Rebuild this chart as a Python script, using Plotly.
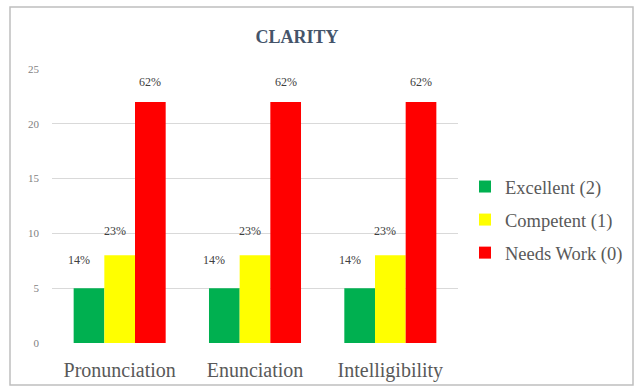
import plotly.graph_objects as go

categories = ["Pronunciation", "Enunciation", "Intelligibility"]
series_names = ["Excellent (2)", "Competent (1)", "Needs Work (0)"]
excellent = [5, 5, 5]
competent = [8, 8, 8]
needs_work = [22, 22, 22]
pct_excellent = ["14%", "14%", "14%"]
pct_competent = ["23%", "23%", "23%"]
pct_needs_work = ["62%", "62%", "62%"]
y_ticks = [0, 5, 10, 15, 20, 25]

colors = ["#00B050", "#FFFF00", "#FF0000"]
values = [excellent, competent, needs_work]
labels = [pct_excellent, pct_competent, pct_needs_work]

SERIF = "Liberation Serif, Times New Roman, serif"
W, H = 638, 389
L, R, T, B = 52, 180, 69, 46
pw, ph = W - L - R, H - T - B

bargap = 0.32
bw = (1 - bargap) / 3
offsets = [-bw, 0, bw]
label_dx = [-10, -5, 0]
label_dy = [28, 24, 20]

x_idx = list(range(len(categories)))
fig = go.Figure()
for k in range(3):
    fig.add_trace(go.Bar(
        x=x_idx, y=values[k], name=series_names[k],
        marker=dict(color=colors[k], line=dict(width=0)),
        legendgroup=series_names[k],
    ))

annotations = []
for k in range(3):
    for i, v in enumerate(values[k]):
        annotations.append(dict(
            x=i + offsets[k], y=v, xref="x", yref="y", text=labels[k][i],
            showarrow=False, xshift=label_dx[k], yshift=label_dy[k],
            yanchor="middle", xanchor="center",
            font=dict(family=SERIF, size=12, color="#404040"),
        ))

def px_x(p):
    return (p - L) / pw

def px_y(p):
    return (H - B - p) / ph

fig.update_layout(
    width=W, height=H,
    margin=dict(l=L, r=R, t=T, b=B, autoexpand=False),
    paper_bgcolor="white", plot_bgcolor="white",
    barmode="group", bargap=bargap, bargroupgap=0,
    title=dict(text="<b>CLARITY</b>", xref="container", x=297 / W, xanchor="center",
               yref="container", y=1 - 37 / H, yanchor="middle",
               font=dict(family=SERIF, size=18, color="#44546A")),
    xaxis=dict(tickvals=x_idx, ticktext=categories, range=[-0.5, 2.5],
               showgrid=False, zeroline=False, showline=False, ticks="",
               ticklabelstandoff=13,
               tickfont=dict(family=SERIF, size=20, color="#595959")),
    yaxis=dict(range=[0, 25], tickvals=y_ticks, showgrid=True, gridcolor="#D9D9D9",
               gridwidth=1, zeroline=False, showline=False, ticks="",
               tickfont=dict(family=SERIF, size=11, color="#7F7F7F"),
               ticklabelstandoff=12),
    legend=dict(x=px_x(465), xanchor="left", y=px_y(220), yanchor="middle",
                font=dict(family=SERIF, size=18.5, color="#595959"),
                tracegroupgap=6, itemwidth=30, bgcolor="rgba(0,0,0,0)"),
    annotations=annotations,
    shapes=[dict(type="rect", xref="paper", yref="paper",
                 x0=px_x(10), x1=px_x(633), y0=px_y(385), y1=px_y(7),
                 line=dict(color="#BFBFBF", width=1.5))],
)

fig.write_html("out.html")
